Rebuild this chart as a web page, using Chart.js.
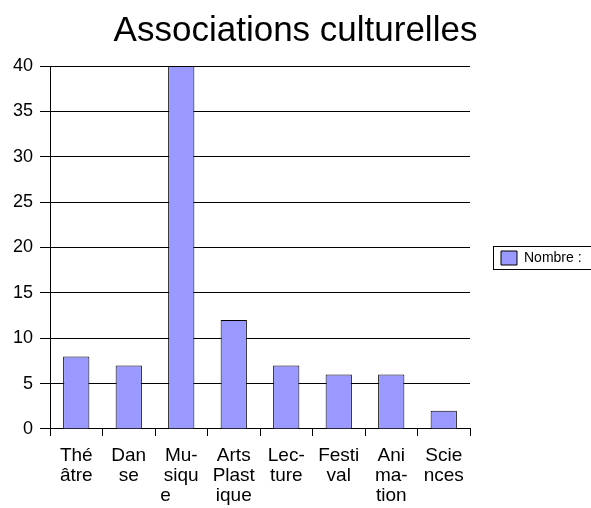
<!DOCTYPE html>
<html>
<head>
<meta charset="utf-8">
<script src="https://cdn.jsdelivr.net/npm/chart.js@4"></script>
<style>
  body { margin: 0; background: #fff; }
  #wrap { width: 591px; height: 508px; }
</style>
</head>
<body>
<div id="wrap"><canvas id="barChart"></canvas></div>
<script>
// données
var categories = [
    ['Thé', 'âtre'],
    ['Dan', 'se'],
    ['Mu-', 'siqu', 'e      '],
    ['Arts', 'Plast', 'ique'],
    ['Lec-', 'ture'],
    ['Festi', 'val'],
    ['Ani', 'ma-', 'tion'],
    ['Scie', 'nces']
];
var nombres = [8, 7, 40, 12, 7, 6, 6, 2];
var titre = 'Associations culturelles';
var serie = 'Nombre :';

var police = "'Liberation Sans', Arial, sans-serif";

// cadre autour de la légende
var cadreLegende = {
    id: 'cadreLegende',
    afterDraw: function (chart) {
        var boxes = chart.legend && chart.legend.legendHitBoxes;
        if (!boxes || !boxes.length) return;
        var b = boxes[0];
        var c = chart.ctx;
        c.save();
        c.strokeStyle = '#000';
        c.lineWidth = 1;
        c.strokeRect(Math.round(b.left - 8) + 0.5, Math.round(b.top - 5) + 0.5, chart.width, Math.round(b.height + 9));
        c.restore();
    }
};

var ctx = document.getElementById('barChart').getContext('2d');

var myChart = new Chart(ctx, {
    type: 'bar',
    data: {
        labels: categories,
        datasets: [{
            label: serie,
            data: nombres,
            backgroundColor: '#9999FF',
            borderColor: '#000',
            borderWidth: 1,
            categoryPercentage: 1,
            barPercentage: 0.5
        }]
    },
    plugins: [cadreLegende],
    options: {
        responsive: true,
        maintainAspectRatio: false,
        animation: false,
        layout: { padding: { left: 0, right: 0, top: 0, bottom: -8 } },
        plugins: {
            title: {
                display: true,
                text: titre,
                color: '#000',
                font: { family: police, size: 35, weight: 'normal' },
                padding: { top: 10, bottom: 14 }
            },
            legend: {
                position: 'right',
                maxWidth: 121,
                labels: {
                    color: '#000',
                    boxWidth: 16,
                    boxHeight: 14,
                    padding: 31,
                    font: { family: police, size: 14 }
                }
            },
            tooltip: { enabled: false }
        },
        scales: {
            x: {
                grid: {
                    display: true,
                    drawOnChartArea: false,
                    color: '#000',
                    tickLength: 7,
                    offset: true
                },
                border: { color: '#000', width: 1 },
                ticks: {
                    color: '#000',
                    maxRotation: 0,
                    autoSkip: false,
                    padding: 10,
                    font: { family: police, size: 19, lineHeight: 1.053 }
                }
            },
            y: {
                min: 0,
                max: 40,
                afterFit: function (scale) { scale.width = 50; },
                grid: { color: '#000', tickLength: 10 },
                border: { color: '#000', width: 1 },
                ticks: {
                    stepSize: 5,
                    color: '#000',
                    padding: 7,
                    font: { family: police, size: 18 }
                }
            }
        }
    }
});
</script>
</body>
</html>
